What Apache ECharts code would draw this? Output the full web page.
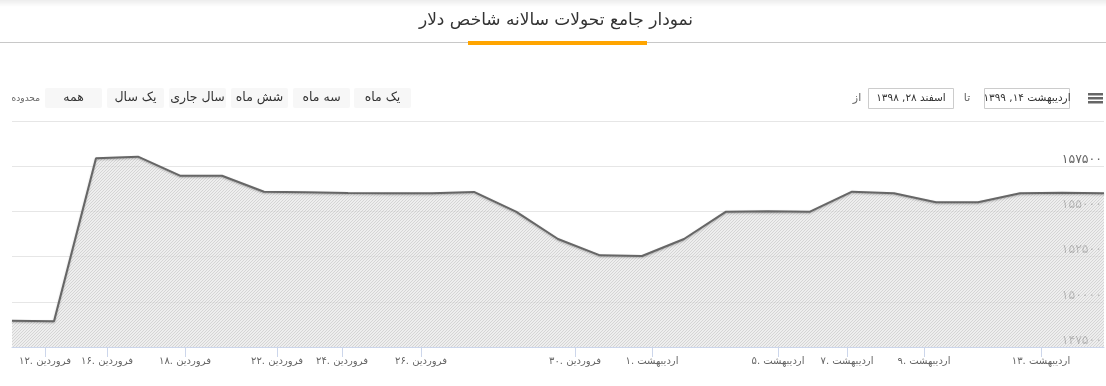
<!DOCTYPE html>
<html><head><meta charset="utf-8">
<script src="https://cdn.jsdelivr.net/npm/echarts@6/dist/echarts.min.js"></script>
<style>html,body{margin:0;padding:0;background:#fff}#c{width:1106px;height:386px}</style>
</head><body><div id="c"></div>
<script>
// ---- data ----
const titleText = 'نمودار جامع تحولات سالانه شاخص دلار';
const values = [148950,148920,157940,158025,156975,156975,156090,156055,156020,156000,156000,156075,154985,153475,152570,152535,153475,154985,155010,154985,156090,156000,155505,155505,156000,156035,156000];
const tickPositions = [0.786,2.262,4.119,6.31,7.857,9.738,13.405,15.238,18.238,19.881,21.714,24.5];
const tickLabels = ['۱۲. فروردین','۱۶. فروردین','۱۸. فروردین','۲۲. فروردین','۲۴. فروردین','۲۶. فروردین','۳۰. فروردین','۱. اردیبهشت','۵. اردیبهشت','۷. اردیبهشت','۹. اردیبهشت','۱۳. اردیبهشت'];
const yMin = 147500, yMax = 160000, yStep = 2500;
const rangeButtons = ['یک ماه','سه ماه','شش ماه','سال جاری','یک سال','همه'];
const rangeLabel = 'محدوده';
const fromLabel = 'از', toLabel = 'تا';
const fromDate = 'اسفند ۲۸, ۱۳۹۸';
const toDate = 'اردیبهشت ۱۴, ۱۳۹۹';

const FONT = '"DejaVu Sans", sans-serif';
const fa = s => String(s).replace(/\d/g, d => '۰۱۲۳۴۵۶۷۸۹'[d]);

// hatch pattern
const pc = document.createElement('canvas'); pc.width = 3; pc.height = 3;
const pg = pc.getContext('2d');
pg.fillStyle = '#e6e6e6'; pg.fillRect(0,0,3,3);
pg.fillStyle = '#c2c2c2';
for (let i = 0; i < 3; i++) pg.fillRect(i, 2 - i, 1, 1);

const graphic = [];
// top shadow
graphic.push({type:'rect', shape:{x:0,y:0,width:1106,height:7}, style:{fill:new echarts.graphic.LinearGradient(0,0,0,1,[{offset:0,color:'rgba(0,0,0,0.07)'},{offset:1,color:'rgba(0,0,0,0)'}])}, silent:true});
// title
graphic.push({type:'text', x:556, y:21, style:{text:titleText, font:'17px ' + FONT, fill:'#333', align:'center', verticalAlign:'middle'}});
graphic.push({type:'rect', shape:{x:0,y:42,width:1106,height:1}, style:{fill:'#c8c8c8'}});
graphic.push({type:'rect', shape:{x:468,y:41,width:179,height:4}, style:{fill:'#ffa500'}});
// range buttons
const btnX = [354,293,231,169,107,45];
rangeButtons.forEach((t,i) => {
  graphic.push({type:'rect', shape:{x:btnX[i], y:88, width:57, height:20, r:2}, style:{fill:'#f7f7f7'}});
  graphic.push({type:'text', x:btnX[i]+28.5, y:98, style:{text:t, font:'12.5px ' + FONT, fill:'#333', align:'center', verticalAlign:'middle'}});
});
graphic.push({type:'text', x:40, y:99, style:{text:rangeLabel, font:'9px ' + FONT, fill:'#666', align:'right', verticalAlign:'middle'}});
// date inputs
graphic.push({type:'rect', shape:{x:984.5, y:88.5, width:85, height:20}, style:{fill:'#fff', stroke:'#cccccc', lineWidth:1}});
graphic.push({type:'text', x:1027, y:98.5, style:{text:toDate, font:'10.5px ' + FONT, fill:'#333', align:'center', verticalAlign:'middle'}});
graphic.push({type:'text', x:967, y:98.5, style:{text:toLabel, font:'11px ' + FONT, fill:'#666', align:'center', verticalAlign:'middle'}});
graphic.push({type:'rect', shape:{x:868.5, y:88.5, width:85, height:20}, style:{fill:'#fff', stroke:'#cccccc', lineWidth:1}});
graphic.push({type:'text', x:911, y:98.5, style:{text:fromDate, font:'10.5px ' + FONT, fill:'#333', align:'center', verticalAlign:'middle'}});
graphic.push({type:'text', x:857, y:98.5, style:{text:fromLabel, font:'11px ' + FONT, fill:'#666', align:'center', verticalAlign:'middle'}});
// menu icon
[94,98,102].forEach(y => graphic.push({type:'rect', shape:{x:1088, y:y-1, width:15, height:2.5}, style:{fill:'#666'}}));

const chart = echarts.init(document.getElementById('c'));
chart.setOption({
  animation:false,
  textStyle:{fontFamily:FONT},
  grid:{left:12, right:2, top:121, bottom:39, containLabel:false},
  xAxis:{
    type:'value', min:0, max:values.length-1,
    axisLine:{lineStyle:{color:'#ccd6eb'}},
    axisTick:{customValues:tickPositions, length:10, lineStyle:{color:'#ccd6eb'}},
    axisLabel:{customValues:tickPositions, color:'#666', fontSize:10, margin:9, hideOverlap:false,
      formatter: v => { let k=0,b=1e9; tickPositions.forEach((p,i)=>{const d=Math.abs(p-v); if(d<b){b=d;k=i;}}); return tickLabels[k]; }},
    splitLine:{show:false}
  },
  yAxis:{
    type:'value', min:yMin, max:yMax, interval:yStep, position:'right',
    axisLine:{show:false}, axisTick:{show:false},
    splitLine:{lineStyle:{color:'#e6e6e6'}},
    axisLabel:{inside:true, margin:2, color:'#666', fontSize:12.5, verticalAlign:'bottom', showMaxLabel:false,
      formatter: v => v >= yMax ? '' : fa(v)}
  },
  series:[{
    type:'line', data:values.map((v,i)=>[i,v]), showSymbol:false,
    lineStyle:{color:'#666', width:2, shadowColor:'rgba(0,0,0,0.25)', shadowBlur:2, shadowOffsetY:1},
    areaStyle:{color:{image:pc, repeat:'repeat'}, origin:'start'}
  }],
  graphic:graphic
});
</script></body></html>
